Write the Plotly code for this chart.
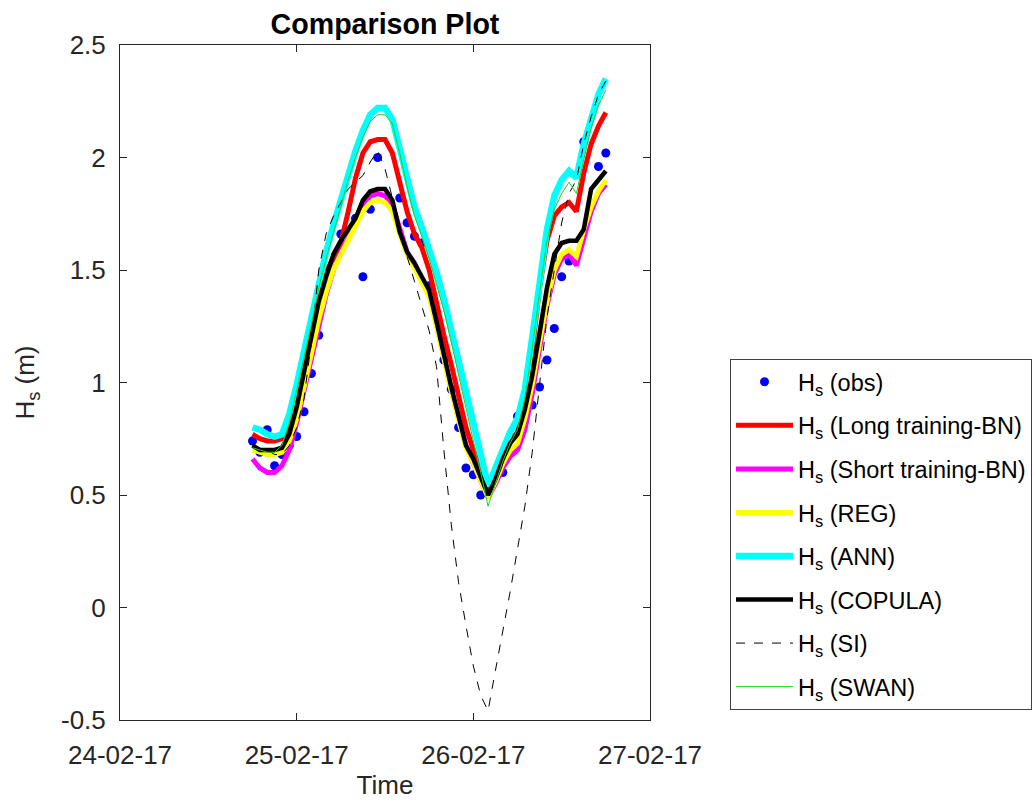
import pandas as pd
import plotly.graph_objects as go

# ---------------- data ----------------
START = "2017-02-24 18:00"          # first hourly model time
DAY0 = "2017-02-24"

# hourly model series, 24-02-17 18:00 .. 26-02-17 18:00
hs_long_bn = [0.77, 0.75, 0.74, 0.74, 0.75, 0.81, 0.94, 1.09, 1.24, 1.39,
              1.49, 1.56, 1.62, 1.76, 1.91, 2.02, 2.07, 2.08, 2.08, 2.02,
              1.88, 1.76, 1.66, 1.60, 1.50, 1.35, 1.21, 1.08, 0.94, 0.80,
              0.70, 0.60, 0.51, 0.58, 0.67, 0.74, 0.78, 0.92, 1.14, 1.42,
              1.63, 1.74, 1.78, 1.80, 1.76, 1.93, 2.06, 2.14, 2.20]
hs_short_bn = [0.66, 0.62, 0.60, 0.60, 0.63, 0.70, 0.82, 0.96, 1.11, 1.26,
               1.39, 1.50, 1.58, 1.64, 1.70, 1.78, 1.83, 1.84, 1.83, 1.79,
               1.68, 1.58, 1.53, 1.46, 1.39, 1.26, 1.11, 0.97, 0.84, 0.72,
               0.64, 0.56, 0.49, 0.55, 0.62, 0.67, 0.70, 0.79, 0.95, 1.15,
               1.34, 1.48, 1.55, 1.57, 1.52, 1.64, 1.76, 1.84, 1.88]
hs_reg = [0.70, 0.69, 0.68, 0.68, 0.69, 0.74, 0.84, 0.98, 1.13, 1.28,
          1.40, 1.50, 1.57, 1.63, 1.69, 1.76, 1.80, 1.81, 1.80, 1.76,
          1.66, 1.57, 1.51, 1.45, 1.38, 1.25, 1.10, 0.96, 0.83, 0.71,
          0.64, 0.56, 0.49, 0.56, 0.64, 0.70, 0.73, 0.84, 0.99, 1.18,
          1.36, 1.50, 1.57, 1.59, 1.56, 1.68, 1.78, 1.85, 1.90]
hs_ann = [0.80, 0.79, 0.77, 0.76, 0.77, 0.86, 0.99, 1.14, 1.29, 1.45,
          1.58, 1.70, 1.81, 1.93, 2.03, 2.12, 2.19, 2.22, 2.22, 2.17,
          2.04, 1.90, 1.78, 1.69, 1.60, 1.49, 1.37, 1.24, 1.10, 0.96,
          0.82, 0.68, 0.54, 0.62, 0.71, 0.78, 0.84, 0.97, 1.20, 1.45,
          1.68, 1.83, 1.90, 1.94, 1.91, 2.06, 2.18, 2.28, 2.35]
hs_copula = [0.72, 0.70, 0.70, 0.70, 0.71, 0.77, 0.89, 1.04, 1.20, 1.36,
             1.47, 1.57, 1.63, 1.68, 1.73, 1.81, 1.85, 1.86, 1.86, 1.81,
             1.67, 1.58, 1.53, 1.47, 1.41, 1.27, 1.12, 0.98, 0.85, 0.72,
             0.66, 0.58, 0.50, 0.57, 0.66, 0.73, 0.77, 0.88, 1.03, 1.22,
             1.42, 1.57, 1.62, 1.63, 1.63, 1.68, 1.86, 1.90, 1.94]
hs_si = [0.72, 0.70, 0.70, 0.68, 0.68, 0.72, 0.80, 0.93, 1.18, 1.50,
         1.66, 1.74, 1.80, 1.86, 1.89, 1.92, 1.98, 2.03, 1.95, 1.82,
         1.68, 1.56, 1.45, 1.34, 1.23, 1.07, 0.70, 0.37, 0.11, -0.08,
         -0.26, -0.39, -0.46, -0.28, -0.11, 0.07, 0.26, 0.45, 0.69, 0.98,
         1.29, 1.50, 1.71, 1.84, 1.90, 2.06, 2.18, 2.28, 2.34]
hs_swan = [0.71, 0.70, 0.69, 0.69, 0.72, 0.82, 0.96, 1.11, 1.26, 1.42,
           1.55, 1.67, 1.78, 1.90, 2.00, 2.09, 2.16, 2.19, 2.19, 2.15,
           2.02, 1.87, 1.74, 1.65, 1.55, 1.44, 1.32, 1.18, 1.03, 0.88,
           0.74, 0.60, 0.45, 0.55, 0.65, 0.73, 0.79, 0.93, 1.15, 1.40,
           1.63, 1.77, 1.84, 1.89, 1.84, 1.99, 2.13, 2.23, 2.30]

# observations (hours after 24-02-17 00:00, Hs in m)
obs_hours = [18, 19, 20, 21, 22, 23, 24, 25, 26, 27, 30, 32, 33, 34, 35,
             38, 39, 40, 41, 42, 43, 44, 45, 46, 47, 48, 49, 52, 54, 56,
             57, 58, 59, 60, 61, 63, 65, 66]
obs_hs = [0.74, 0.69, 0.79, 0.63, 0.68, 0.72, 0.76, 0.87, 1.04, 1.21,
          1.66, 1.73, 1.47, 1.77, 2.00, 1.82, 1.71, 1.65, 1.62, 1.43,
          1.31, 1.10, 0.97, 0.80, 0.62, 0.59, 0.50, 0.60, 0.85, 0.90,
          0.98, 1.10, 1.24, 1.47, 1.54, 2.07, 1.96, 2.02]

x_range = ["2017-02-24", "2017-02-27"]
y_ticks = [-0.5, 0, 0.5, 1, 1.5, 2, 2.5]
y_ticktext = ["-0.5", "0", "0.5", "1", "1.5", "2", "2.5"]

labels = ["H<sub>s</sub> (obs)", "H<sub>s</sub> (Long training-BN)",
          "H<sub>s</sub> (Short training-BN)", "H<sub>s</sub> (REG)",
          "H<sub>s</sub> (ANN)", "H<sub>s</sub> (COPULA)",
          "H<sub>s</sub> (SI)", "H<sub>s</sub> (SWAN)"]

# ---------------- figure ----------------
times = pd.date_range(START, periods=len(hs_ann), freq="h")
obs_times = pd.Timestamp(DAY0) + pd.to_timedelta(obs_hours, unit="h")

FONT = "Liberation Sans, Arial, Helvetica, sans-serif"
AX = "#262626"
W, H = 1034, 800

fig = go.Figure()
fig.add_trace(go.Scatter(x=obs_times, y=obs_hs, mode="markers", name=labels[0],
                         legendgroup="g0",
                         marker=dict(color="#0000f0", size=9)))

line_series = [
    (hs_long_bn, "#ff0000", 5, "solid"),
    (hs_short_bn, "#ff00ff", 5, "solid"),
    (hs_reg, "#ffff00", 5, "solid"),
    (hs_ann, "#00ffff", 6.5, "solid"),
    (hs_copula, "#000000", 4.5, "solid"),
    (hs_si, "#000000", 1, "dash"),
    (hs_swan, "#1fd01f", 1, "solid"),
]
for i, (vals, col, w, dash) in enumerate(line_series, start=1):
    fig.add_trace(go.Scatter(x=times, y=vals, mode="lines", name=labels[i],
                             legendgroup=f"g{i}",
                             line=dict(color=col, width=w, dash=dash)))

fig.update_layout(
    width=W, height=H,
    margin=dict(l=120, r=384, t=45, b=80),
    paper_bgcolor="white", plot_bgcolor="white",
    font=dict(family=FONT, size=26, color=AX),
    title=dict(text="<b>Comparison Plot</b>", x=0.5, xref="paper",
               y=1 - 24 / H, yref="container", yanchor="middle",
               xanchor="center",
               font=dict(family=FONT, size=28.6, color="#000000")),
    showlegend=True,
    legend=dict(x=730 / W, y=1 - 359 / H, xref="container", yref="container",
                xanchor="left", yanchor="top",
                bgcolor="white", bordercolor="#404040", borderwidth=1,
                font=dict(family=FONT, size=23.5, color="#000000"),
                itemwidth=57, tracegroupgap=10),
)
fig.update_xaxes(type="date", range=x_range, dtick=86400000,
                 tickformat="%d-%m-%y", ticks="inside", ticklen=7,
                 tickcolor=AX, showline=True, linecolor=AX, linewidth=1,
                 mirror="ticks", showgrid=False, zeroline=False,
                 automargin=False, ticklabelstandoff=12,
                 title=dict(text="Time", standoff=6,
                            font=dict(family=FONT, size=26, color=AX)))
fig.update_yaxes(range=[-0.5, 2.5], tickvals=y_ticks, ticktext=y_ticktext,
                 ticks="inside", ticklen=7, tickcolor=AX, showline=True,
                 linecolor=AX, linewidth=1, mirror="ticks", showgrid=False,
                 zeroline=False, automargin=False, ticklabelstandoff=8,
                 title=dict(text="H<sub>s</sub> (m)", standoff=18,
                            font=dict(family=FONT, size=26, color=AX)))

fig.write_html("out.html")
